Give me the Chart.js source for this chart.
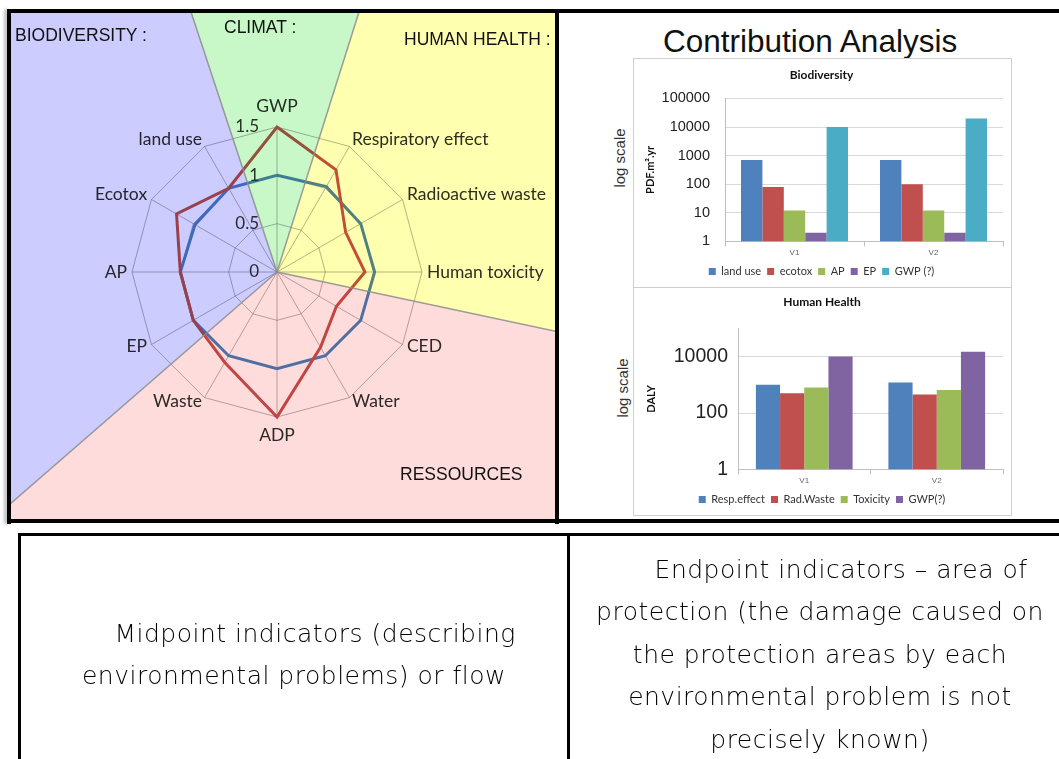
<!DOCTYPE html>
<html>
<head>
<meta charset="utf-8">
<script src="https://cdn.jsdelivr.net/npm/chart.js@4.4.1/dist/chart.umd.min.js"></script>
<style>
body { margin:0; width:1059px; height:759px; overflow:hidden; background:#fff; position:relative; font-family:"Liberation Sans", Arial, sans-serif; }
.bar { position:absolute; background:#000; }
#radarWrap { position:absolute; left:11px; top:13px; width:544px; height:506px; overflow:hidden; }
#radarBox { position:absolute; left:-184px; top:0; width:900px; height:506px; }
.hdr { position:absolute; font-size:17.5px; line-height:20px; color:#111; white-space:nowrap; }
.box { position:absolute; border:1px solid #cfcfcf; box-sizing:border-box; }
.box div { position:absolute; left:0; top:0; right:0; bottom:0; }
.rot { position:absolute; width:90px; text-align:center; font-size:15px; line-height:18px; color:#333; transform:rotate(-90deg); white-space:nowrap; }
.cell { position:absolute; display:flex; align-items:center; justify-content:center; text-align:center; white-space:pre; font-family:"DejaVu Sans", sans-serif; font-weight:300; font-size:25px; letter-spacing:0.5px; line-height:42.5px; color:#000; will-change:transform; }
</style>
</head>
<body>

<div id="radarWrap"><div id="radarBox"><canvas id="radar"></canvas></div></div>
<div class="hdr" style="left:15px;top:25px">BIODIVERSITY :</div>
<div class="hdr" style="left:224px;top:17px">CLIMAT :</div>
<div class="hdr" style="left:404px;top:29px">HUMAN HEALTH :</div>
<div class="hdr" style="left:400px;top:464px">RESSOURCES</div>

<div class="bar" style="left:7px;top:9px;width:1052px;height:4px"></div>
<div class="bar" style="left:7px;top:9px;width:4px;height:515px;box-shadow:-3px 0 3px rgba(0,0,0,0.25)"></div>
<div class="bar" style="left:555px;top:9px;width:4px;height:515px"></div>
<div class="bar" style="left:7px;top:519px;width:1052px;height:4px"></div>

<div style="position:absolute;left:663px;top:23px;font-size:31.5px;line-height:36px;color:#111;white-space:nowrap">Contribution Analysis</div>
<div class="rot" style="left:575px;top:149px">log scale</div>
<div class="rot" style="left:578px;top:379px">log scale</div>
<div class="box" style="left:633px;top:58px;width:379px;height:230px"><div><canvas id="bio"></canvas></div></div>
<div class="box" style="left:633px;top:287px;width:379px;height:229px"><div><canvas id="hh"></canvas></div></div>

<div class="bar" style="left:18px;top:533px;width:1041px;height:3px"></div>
<div class="bar" style="left:18px;top:533px;width:3px;height:226px"></div>
<div class="bar" style="left:567px;top:533px;width:3px;height:226px"></div>
<div class="cell" style="left:21px;top:536px;width:546px;height:238px">     Midpoint indicators (describing
environmental problems) or flow</div>
<div class="cell" style="left:570px;top:536px;width:500px;height:238px">     Endpoint indicators – area of
protection (the damage caused on
the protection areas by each
environmental problem is not
precisely known)</div>

<script>
// radar: normalised indicator scores, variant vs reference
const axes = ['GWP', 'Respiratory effect', 'Radioactive waste', 'Human toxicity', 'CED', 'Water', 'ADP', 'Waste', 'EP', 'AP', 'Ecotox', 'land use'];
const variantScores = [1.5, 1.22, 0.82, 0.91, 0.71, 0.9, 1.5, 1.08, 1.0, 1.0, 1.2, 1.0];
const referenceScores = [1.0, 1.02, 1.0, 1.01, 1.0, 1.0, 1.0, 1.0, 1.0, 1.0, 0.98, 1.0];
const radarTicks = [0, 0.5, 1, 1.5];

// bar charts
const variants = ['V1', 'V2'];
const bioNames = ['land use', 'ecotox', 'AP', 'EP', 'GWP (?)'];
const bioLandUse = [700, 700];
const bioEcotox = [80, 100];
const bioAP = [12, 12];
const bioEP = [2, 2];
const bioGWP = [10000, 20000];
const bioTicks = [1, 10, 100, 1000, 10000, 100000];

const hhNames = ['Resp.effect', 'Rad.Waste', 'Toxicity', 'GWP(?)'];
const hhResp = [1000, 1200];
const hhRad = [500, 450];
const hhTox = [800, 650];
const hhGWP = [10000, 15000];
const hhTicks = [1, 100, 10000];

const rad = d => d * Math.PI / 180;

// coloured areas of protection laid over the radar
const zones = [
    { from: -108.3, to: -72.5, color: '#c8f8c8' },
    { from: -72.5, to: 12, color: '#ffffb0' },
    { from: 12, to: 139, color: '#ffdcdc' },
    { from: 139, to: 251.7, color: '#ccccff' }
];

const zonePlugin = {
    id: 'zones',
    afterDraw(chart) {
        const ctx = chart.ctx;
        const r = chart.scales.r;
        const cx = r.xCenter, cy = r.yCenter;
        ctx.save();
        ctx.font = '17px Lato';
        ctx.fillStyle = '#333';
        ctx.textAlign = 'right';
        ctx.textBaseline = 'middle';
        radarTicks.forEach(v => {
            ctx.fillText(String(v), cx - 18, cy - r.getDistanceFromCenterForValue(v));
        });
        ctx.globalCompositeOperation = 'multiply';
        zones.forEach(z => {
            ctx.fillStyle = z.color;
            ctx.beginPath();
            ctx.moveTo(cx, cy);
            ctx.arc(cx, cy, 1500, rad(z.from), rad(z.to));
            ctx.closePath();
            ctx.fill();
        });
        ctx.globalCompositeOperation = 'source-over';
        ctx.strokeStyle = 'rgba(140,140,140,0.85)';
        ctx.lineWidth = 1.5;
        zones.forEach(z => {
            ctx.beginPath();
            ctx.moveTo(cx, cy);
            ctx.lineTo(cx + 1500 * Math.cos(rad(z.from)), cy + 1500 * Math.sin(rad(z.from)));
            ctx.stroke();
        });
        ctx.restore();
    }
};

// excel centres the labels on the spoke ends, chart.js puts them above/below
function nudgeLabels(s) {
    (s._pointLabelItems || []).forEach((item, i) => {
        const a = Math.round(i * 360 / axes.length);
        let dy = 0;
        if (a === 0) dy = -5.5;
        else if (a === 180) dy = 2.5;
        else if (a < 90 || a > 270) dy = 7.5;
        else if (a > 90 && a < 270) dy = -11;
        item.y += dy;
        item.top += dy;
        item.bottom += dy;
    });
}

new Chart(document.getElementById('radar'), {
    type: 'radar',
    data: {
        labels: axes,
        datasets: [
            { data: variantScores, borderColor: '#c0504d', borderWidth: 3, fill: false },
            { data: referenceScores, borderColor: '#4f81bd', borderWidth: 3, fill: false }
        ]
    },
    options: {
        responsive: true,
        maintainAspectRatio: false,
        animation: false,
        layout: { padding: { top: 88, bottom: 76, left: 0, right: 0 } },
        elements: { point: { radius: 0 }, line: { tension: 0 } },
        plugins: { legend: { display: false }, tooltip: { enabled: false } },
        scales: {
            r: {
                min: 0,
                max: 1.5,
                afterFit: nudgeLabels,
                ticks: { stepSize: 0.5, display: false },
                grid: { color: 'rgba(120,120,120,0.55)', lineWidth: 1 },
                angleLines: { color: 'rgba(120,120,120,0.55)', lineWidth: 1 },
                pointLabels: { font: { family: 'Lato', size: 17.5 }, color: '#2e2e2e', padding: 5 }
            }
        }
    },
    plugins: [zonePlugin]
});

function logBarChart(id, title, unit, names, series, colors, ticks, opts) {
    new Chart(document.getElementById(id), {
        type: 'bar',
        data: {
            labels: variants,
            datasets: names.map((n, i) => ({
                label: n,
                data: series[i],
                backgroundColor: colors[i],
                categoryPercentage: opts.cat,
                barPercentage: 1
            }))
        },
        options: {
            responsive: true,
            maintainAspectRatio: false,
            animation: false,
            layout: { padding: { left: opts.padLeft, right: 8, top: 0, bottom: 0 } },
            plugins: {
                title: {
                    display: true, text: title, color: '#111',
                    font: { family: 'Lato', size: 12, weight: 'bold' },
                    padding: { top: opts.titleTop, bottom: opts.titleBottom }
                },
                legend: {
                    position: 'bottom',
                    labels: { boxWidth: 7, boxHeight: 7, padding: 6, color: '#333', font: { family: 'Lato', size: 11 } }
                },
                tooltip: { enabled: false }
            },
            scales: {
                x: {
                    grid: { display: true, drawOnChartArea: false, offset: true, tickLength: 5, color: '#bfbfbf' },
                    border: { color: '#bfbfbf' },
                    ticks: { font: { size: 8 }, color: '#666', padding: 2 }
                },
                y: {
                    type: 'logarithmic',
                    min: 1,
                    max: 100000,
                    afterBuildTicks: s => { s.ticks = ticks.map(v => ({ value: v })); },
                    afterFit: s => { s.width = opts.yWidth; },
                    ticks: { font: { family: 'Liberation Sans', size: opts.tickSize }, color: '#222', padding: opts.tickPad, callback: v => String(v) },
                    grid: { color: '#d9d9d9', drawTicks: false },
                    border: { color: '#bfbfbf' },
                    title: { display: true, text: unit, color: '#111', font: { family: 'Lato', size: 11, weight: 'bold' } }
                }
            }
        }
    });
}

logBarChart('bio', 'Biodiversity', 'PDF.m\u00b2.yr', bioNames,
    [bioLandUse, bioEcotox, bioAP, bioEP, bioGWP],
    ['#4f81bd', '#c0504d', '#9bbb59', '#8064a2', '#4bacc6'], bioTicks,
    { cat: 0.77, padLeft: 6, yWidth: 85, tickSize: 14.5, tickPad: 15, titleTop: 9, titleBottom: 16 });

logBarChart('hh', 'Human Health', 'DALY', hhNames,
    [hhResp, hhRad, hhTox, hhGWP],
    ['#4f81bd', '#c0504d', '#9bbb59', '#8064a2'], hhTicks,
    { cat: 0.73, padLeft: 7, yWidth: 97, tickSize: 19.5, tickPad: 10, titleTop: 6.5, titleBottom: 19.5 });
</script>
</body>
</html>
